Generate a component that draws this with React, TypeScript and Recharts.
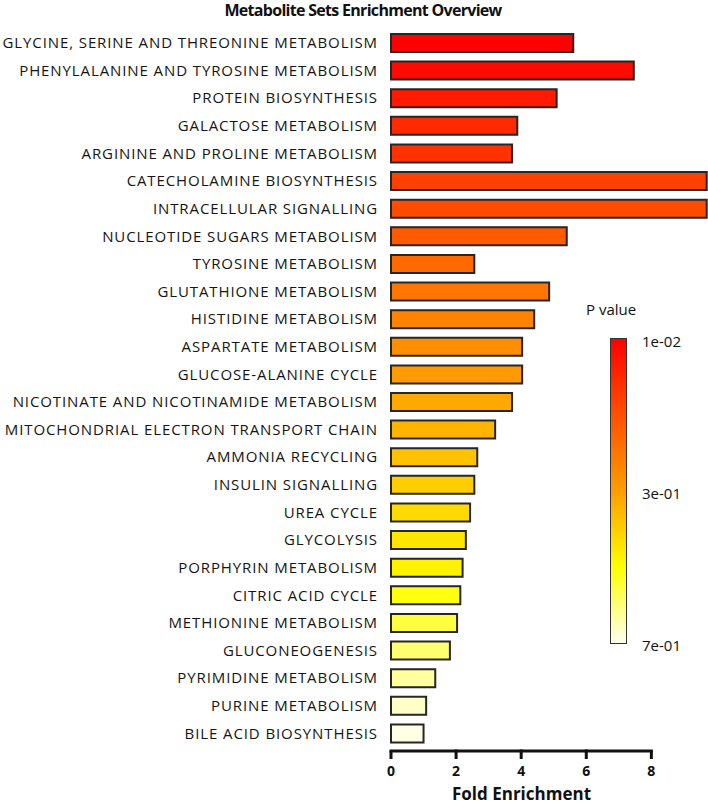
import React from "react"
import { BarChart, Bar, XAxis, YAxis, Cell } from "recharts"

const pathways = [
   "GLYCINE, SERINE AND THREONINE METABOLISM",
   "PHENYLALANINE AND TYROSINE METABOLISM",
   "PROTEIN BIOSYNTHESIS",
   "GALACTOSE METABOLISM",
   "ARGININE AND PROLINE METABOLISM",
   "CATECHOLAMINE BIOSYNTHESIS",
   "INTRACELLULAR SIGNALLING",
   "NUCLEOTIDE SUGARS METABOLISM",
   "TYROSINE METABOLISM",
   "GLUTATHIONE METABOLISM",
   "HISTIDINE METABOLISM",
   "ASPARTATE METABOLISM",
   "GLUCOSE-ALANINE CYCLE",
   "NICOTINATE AND NICOTINAMIDE METABOLISM",
   "MITOCHONDRIAL ELECTRON TRANSPORT CHAIN",
   "AMMONIA RECYCLING",
   "INSULIN SIGNALLING",
   "UREA CYCLE",
   "GLYCOLYSIS",
   "PORPHYRIN METABOLISM",
   "CITRIC ACID CYCLE",
   "METHIONINE METABOLISM",
   "GLUCONEOGENESIS",
   "PYRIMIDINE METABOLISM",
   "PURINE METABOLISM",
   "BILE ACID BIOSYNTHESIS",
]

const foldEnrichment = [
   5.6, 7.46, 5.09, 3.88, 3.72, 9.7, 9.7, 5.4, 2.56, 4.86, 4.4, 4.03, 4.03,
   3.72, 3.2, 2.65, 2.56, 2.43, 2.3, 2.2, 2.13, 2.03, 1.81, 1.36, 1.08, 1.0,
]

// colour of each bar, by p value
const barColors = [
   "#ff0000", "#ff0a00", "#ff1a00", "#ff2a00", "#ff3200", "#ff4000", "#ff4c00",
   "#ff5a00", "#ff6a00", "#ff7600", "#ff8200", "#ff8e00", "#ff9a00", "#ffa800",
   "#ffb400", "#ffc200", "#ffce00", "#ffda00", "#ffe600", "#fff200", "#ffff10",
   "#ffff40", "#ffff70", "#ffffa0", "#ffffc8", "#ffffe6",
]

const xTicks = [0, 2, 4, 6, 8]
const pLabels = ["1e-02", "3e-01", "7e-01"]

const FONT = "'Open Sans', 'Noto Sans', sans-serif"
const CHART_W = 708
const CHART_H = 804
const Y_AXIS_W = 391
const X_MAX = 9.74
const PX_PER_UNIT = (CHART_W - Y_AXIS_W) / X_MAX
const TICK_SIZE = 8
const TICK_MARGIN = 5

const data = pathways.map((name, i) => ({ name, fold: foldEnrichment[i] }))

const XTick = (props: any) => {
   const { x, y, payload, index } = props
   const lineY = y - TICK_SIZE - TICK_MARGIN
   const last = index === xTicks.length - 1
   return (
      <g>
         {!last && (
            <line x1={x - 1.5} y1={lineY} x2={x + 2 * PX_PER_UNIT + 1.5} y2={lineY} stroke="#111" strokeWidth={3} />
         )}
         <text x={x} y={y} dy="0.85em" textAnchor="middle" fontFamily={FONT} fontWeight={700} fontSize={14} fill="#111">
            {payload.value}
         </text>
      </g>
   )
}

const YTick = (props: any) => {
   const { x, y, payload } = props
   return (
      <text
         x={x}
         y={y}
         dy="0.36em"
         textAnchor="end"
         fontFamily={FONT}
         fontSize={15}
         fill="#151515"
         style={{ letterSpacing: "0.9px" }}
      >
         {payload.value}
      </text>
   )
}

const ColorBar = () => (
   <div style={{ position: "absolute", left: 0, top: 0, fontFamily: FONT, color: "#111" }}>
      <div style={{ position: "absolute", left: 586, top: 299, fontSize: 15, whiteSpace: "nowrap" }}>P value</div>
      <div
         style={{
            position: "absolute",
            left: 610,
            top: 338,
            width: 15,
            height: 304,
            border: "1.5px solid #333",
            background: "linear-gradient(to bottom, #ff0000 0%, #ff5000 25%, #ffa000 51%, #ffff00 75%, #fffff0 100%)",
         }}
      />
      {pLabels.map((t, i) => (
         <div key={t} style={{ position: "absolute", left: 642, top: 331 + i * 152, fontSize: 15, whiteSpace: "nowrap" }}>
            {t}
         </div>
      ))}
   </div>
)

export default function App() {
   return (
      <div style={{ position: "fixed", left: 0, top: 0, width: CHART_W, height: CHART_H, background: "#fff", overflow: "hidden" }}>
         <BarChart
            width={CHART_W}
            height={CHART_H}
            data={data}
            layout="vertical"
            margin={{ top: 29, right: 0, bottom: 0, left: 0 }}
            barSize={18}
         >
            <XAxis
               type="number"
               domain={[0, X_MAX]}
               ticks={xTicks}
               interval={0}
               height={53}
               axisLine={false}
               tickLine={{ stroke: "#111", strokeWidth: 3 }}
               tickSize={TICK_SIZE}
               tickMargin={TICK_MARGIN}
               tick={<XTick />}
               label={{
                  value: "Fold Enrichment",
                  position: "insideBottom",
                  offset: 4,
                  dx: -28,
                  style: { fontFamily: FONT, fontWeight: 700, fontSize: 17, fill: "#111" },
               }}
            />
            <YAxis
               type="category"
               dataKey="name"
               width={Y_AXIS_W}
               interval={0}
               axisLine={false}
               tickLine={false}
               tickSize={0}
               tickMargin={13}
               padding={{ top: 0, bottom: 4 }}
               tick={<YTick />}
            />
            <Bar dataKey="fold" stroke="#262626" strokeWidth={2} isAnimationActive={false}>
               {data.map((d, i) => (
                  <Cell key={d.name} fill={barColors[i]} />
               ))}
            </Bar>
         </BarChart>
         <ColorBar />
         <div
            style={{
               position: "absolute",
               left: 363,
               top: 2,
               transform: "translateX(-50%)",
               fontFamily: FONT,
               fontWeight: 700,
               fontSize: 16,
               lineHeight: "16px",
               letterSpacing: "-0.7px",
               whiteSpace: "nowrap",
               color: "#111",
               zIndex: 2,
            }}
         >
            Metabolite Sets Enrichment Overview
         </div>
      </div>
   )
}
